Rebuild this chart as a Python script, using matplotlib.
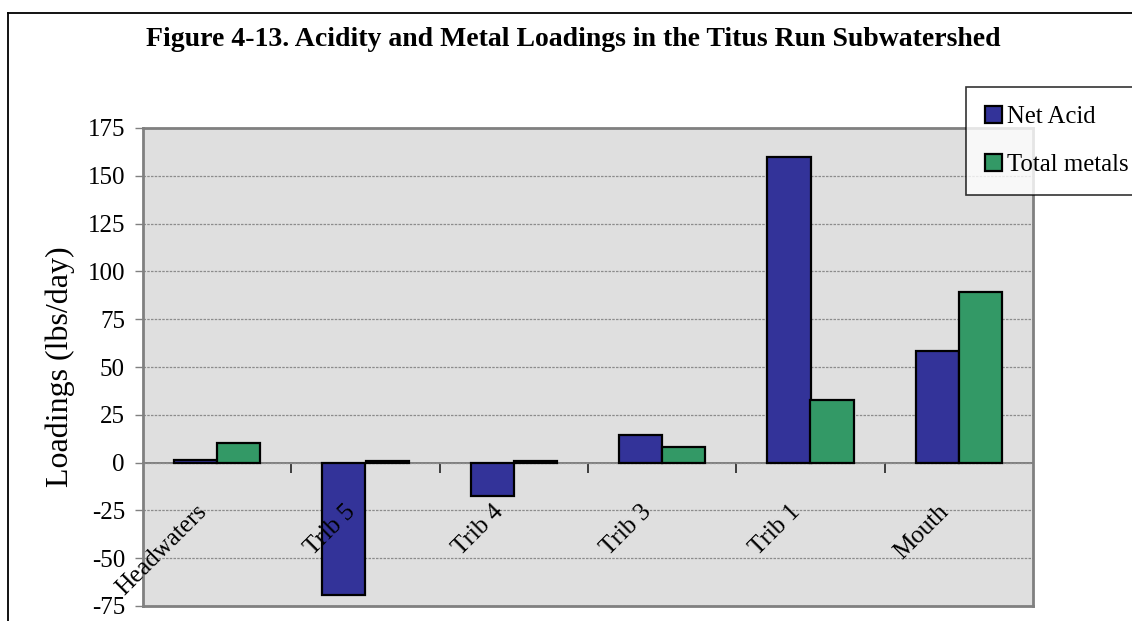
import numpy as np
import matplotlib.pyplot as plt
from matplotlib.lines import Line2D
import matplotlib.transforms as mtransforms

plt.rcParams['font.family'] = ['Liberation Serif', 'DejaVu Serif']

# data
categorias = ["Headwaters", "Trib 5", "Trib 4", "Trib 3", "Trib 1", "Mouth"]
net_acid = [1.5, -69, -17.5, 14.5, 160, 58.5]
total_metals = [10, 0.8, 0.6, 8, 32.5, 89]
y_ticks = [-75, -50, -25, 0, 25, 50, 75, 100, 125, 150, 175]

col_acid = "#333399"
col_metal = "#339966"

fig = plt.figure(figsize=(11.32, 6.21), dpi=100)
ax = fig.add_axes([143/1132, 1 - 606/621, 890/1132, 478/621])
ax.set_facecolor("#DFDFDF")

x = np.arange(len(categorias)) + 0.5
w = 0.29
ax.bar(x - w/2, net_acid, w, color=col_acid, edgecolor="black", linewidth=1.6,
       label="Net Acid", zorder=3)
ax.bar(x + w/2, total_metals, w, color=col_metal, edgecolor="black", linewidth=1.6,
       label="Total metals", zorder=3)

ax.set_xlim(0, len(categorias))
ax.set_ylim(-75, 175)
ax.set_yticks(y_ticks)
ax.set_yticklabels([str(v) for v in y_ticks], fontsize=18)
ax.tick_params(axis="y", length=6, width=1, color="#808080", pad=7)
ax.set_xticks([])
ax.yaxis.grid(True, linestyle=(0, (2, 1)), color="#8C8C8C", linewidth=0.9, zorder=1)
for s in ax.spines.values():
    s.set_color("#808080")
    s.set_linewidth(2)

# category axis crossing at zero
sec = ax.secondary_xaxis(75 / 250)
sec.spines["bottom"].set_color("#777777")
sec.spines["bottom"].set_linewidth(1.3)
sec.set_xticks(np.arange(1, len(categorias)))
sec.set_xticklabels([])
sec.tick_params(axis="x", length=7, width=1.2, color="#222222", direction="out")

off = mtransforms.offset_copy(ax.transData, fig=fig, x=-14, y=-46, units="dots")
for xi, lab in zip(x, categorias):
    ax.text(xi, 0, lab, transform=off, rotation=45, rotation_mode="anchor",
            ha="right", va="center", fontsize=18, zorder=5)

ax.set_ylabel("Loadings (lbs/day)", fontsize=23, labelpad=9)

fig.suptitle("Figure 4-13. Acidity and Metal Loadings in the Titus Run Subwatershed",
             fontsize=20, fontweight="bold", x=573/1132, y=1 - 40/621, va="center")

leg = fig.legend(loc="upper left", bbox_to_anchor=(966/1132, 1 - 87/621),
                 fontsize=17.8, frameon=True, fancybox=False, handlelength=0.7,
                 handleheight=0.7, handletextpad=0.2, labelspacing=1.05,
                 borderpad=0.75, borderaxespad=0)
leg.get_frame().set_edgecolor("black")
leg.get_frame().set_linewidth(1.2)
for h in leg.legend_handles:
    h.set_linewidth(1.6)

# outer border of the chart area
border_kw = dict(color="black", linewidth=1.3, transform=fig.transFigure)
fig.add_artist(Line2D([8/1132, 8/1132], [0, 1 - 13/621], **border_kw))
fig.add_artist(Line2D([8/1132, 1], [1 - 13/621, 1 - 13/621], **border_kw))

fig.savefig("out.png", dpi=100)
